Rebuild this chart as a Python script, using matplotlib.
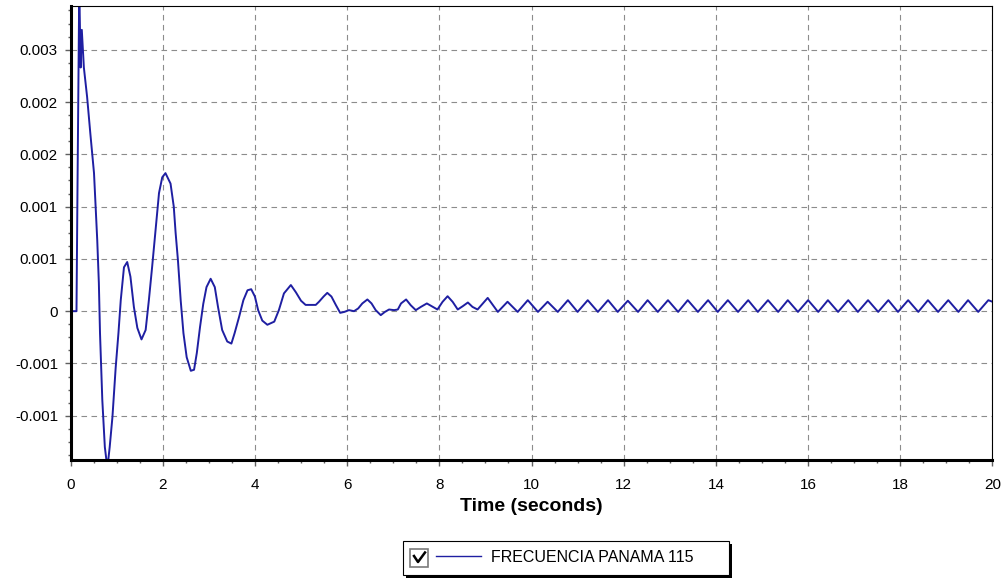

# Frequency deviation trace (FRECUENCIA PANAMA 115) over 20 seconds.

import matplotlib
matplotlib.use("Agg")
import matplotlib.pyplot as plt
from matplotlib.lines import Line2D
from matplotlib.patches import Rectangle
from matplotlib.ticker import FixedLocator, FixedFormatter, MultipleLocator


# Values
time_s = [0.00, 0.13, 0.15, 0.19, 0.22, 0.245, 0.29, 0.36, 0.43, 0.51,
          0.58, 0.615, 0.64, 0.69, 0.745, 0.80, 0.85, 0.91, 0.98, 1.04,
          1.09, 1.16, 1.23, 1.30, 1.375, 1.45, 1.54, 1.63, 1.70, 1.77,
          1.85, 1.92, 1.99, 2.06, 2.17, 2.24, 2.28, 2.33, 2.39, 2.45,
          2.52, 2.61, 2.68, 2.74, 2.81, 2.88, 2.95, 3.04, 3.13, 3.20,
          3.29, 3.40, 3.49, 3.56, 3.66, 3.75, 3.84, 3.92, 4.00, 4.07,
          4.16, 4.27, 4.42, 4.52, 4.63, 4.78, 4.89, 5.00, 5.10, 5.21,
          5.32, 5.39, 5.49, 5.57, 5.66, 5.755, 5.85, 5.94, 6.04, 6.15,
          6.24, 6.33, 6.44, 6.53, 6.62, 6.73, 6.82, 6.91, 7.02, 7.10,
          7.17, 7.28, 7.38, 7.49, 7.60, 7.73, 7.86, 7.96, 8.07, 8.18,
          8.29, 8.40, 8.51, 8.62, 8.72, 8.83,
          9.05, 9.27, 9.48, 9.70, 9.92, 10.14, 10.35, 10.57, 10.79, 11.00,
          11.22, 11.44, 11.66, 11.87, 12.09, 12.31, 12.52, 12.74, 12.96, 13.18,
          13.39, 13.61, 13.83, 14.04, 14.26, 14.48, 14.70, 14.91, 15.13, 15.35,
          15.56, 15.78, 16.00, 16.22, 16.43, 16.65, 16.87, 17.08, 17.30, 17.52,
          17.74, 17.95, 18.17, 18.39, 18.60, 18.82, 19.04, 19.26, 19.47, 19.69,
          19.91, 20.00]

freq_dev = [0.0, 0.0, 0.00109, 0.0031, 0.00233, 0.00269, 0.00233, 0.00205, 0.00170, 0.00132,
            0.00068, 0.00027, -0.00021, -0.00085, -0.00130, -0.00150, -0.00130, -0.00101, -0.00054, -0.00021,
            0.000105, 0.00042, 0.00047, 0.00033, 0.00004, -0.00016, -0.00027, -0.00018, 0.000105, 0.00042,
            0.00080, 0.00113, 0.00128, 0.00132, 0.00122, 0.00100, 0.00075, 0.00049, 0.000105, -0.00021,
            -0.00044, -0.00057, -0.00056, -0.00040, -0.00015, 0.00007, 0.00023, 0.00031, 0.00023, 0.00004,
            -0.00018, -0.00029, -0.00031, -0.00021, -0.00005, 0.000105, 0.00020, 0.00021, 0.00014, 0.00001,
            -0.00009, -0.00013, -0.00010, 0.00001, 0.00017, 0.00025, 0.00018, 0.00010, 0.00006, 0.00006,
            0.00006, 0.00009, 0.00014, 0.000175, 0.00014, 0.00006, -0.000016, -0.000007, 0.00001, 0.0,
            0.000026, 0.000074, 0.000112, 0.000074, 0.00001, -0.000038, -0.000007, 0.000016, 0.00001, 0.000016,
            0.000074, 0.000112, 0.000057, 0.00001, 0.000041, 0.000074, 0.000041, 0.000016, 0.000089, 0.000143,
            0.000089, 0.000016, 0.000048, 0.000083, 0.000041, 0.000016,
            0.000127, -0.000007, 0.00009, -0.000007, 0.000105, -0.000007, 0.00009, -0.000007, 0.000105, -0.000007,
            0.000105, -0.000007, 0.000105, -0.000007, 0.0001, -0.000007, 0.000105, -0.000007, 0.000105, -0.000007,
            0.000105, -0.000007, 0.000105, -0.000007, 0.000105, -0.000007, 0.000105, -0.000007, 0.000105, -0.000007,
            0.000105, -0.000007, 0.000105, -0.000007, 0.000105, -0.000007, 0.000105, -0.000007, 0.000105, -0.000007,
            0.000105, -0.000007, 0.000105, -0.000007, 0.000105, -0.000007, 0.000105, -0.000007, 0.000105, -0.000007,
            0.000105, 0.00009]

y_ticks = [-0.001, -0.0005, 0.0, 0.0005, 0.001, 0.0015, 0.002, 0.0025]
y_tick_labels = ["-0.001", "-0.001", "0", "0.001", "0.001", "0.002", "0.002", "0.003"]
x_ticks = [0, 2, 4, 6, 8, 10, 12, 14, 16, 18, 20]
x_tick_labels = ["0", "2", "4", "6", "8", "10", "12", "14", "16", "18", "20"]
series_name = "FRECUENCIA PANAMA 115"

W, H = 1003, 579


def fx(px):
    return px / W


def fy(py):
    return 1.0 - py / H


def plot(filename="out.png"):
    plt.rcParams["font.family"] = ["Liberation Sans", "DejaVu Sans"]

    fig = plt.figure(figsize=(W / 100, H / 100), dpi=100)
    fig.patch.set_facecolor("white")
    ax = fig.add_axes([fx(70.5), fy(460), fx(992.5) - fx(70.5), fy(6) - fy(460)])

    line, = ax.plot(time_s, freq_dev, color="#1f1fa2", lw=1.4)

    ax.set_xlim(0, 20)
    ax.set_ylim(-0.001423, 0.002918)

    ax.xaxis.set_major_locator(FixedLocator(x_ticks))
    ax.xaxis.set_major_formatter(FixedFormatter(x_tick_labels))
    ax.xaxis.set_minor_locator(MultipleLocator(0.5))
    ax.yaxis.set_major_locator(FixedLocator(y_ticks))
    ax.yaxis.set_major_formatter(FixedFormatter(y_tick_labels))
    ax.yaxis.set_minor_locator(MultipleLocator(0.000125))

    ax.tick_params(which="major", length=4, width=1, color="#606060",
                   labelsize=11, labelcolor="black")
    ax.tick_params(which="minor", length=2.5, width=1, color="#606060")
    ax.tick_params(axis="x", pad=9)
    ax.tick_params(axis="y", pad=5)

    ax.grid(True, which="major", color="#8c8c8c", lw=0.8, ls=(0, (5, 4)))

    for side in ["top", "right"]:
        ax.spines[side].set_linewidth(0.8)
    for side in ["left", "bottom"]:
        ax.spines[side].set_linewidth(2.2)

    ax.set_xlabel("Time (seconds)", fontsize=14, fontweight="bold", labelpad=4)

    # legend box with shadow and a checkbox, like the original control
    fig.patches.append(Rectangle((fx(406.5), fy(578)), fx(731.5) - fx(406.5),
                                 fy(543.5) - fy(578), transform=fig.transFigure,
                                 facecolor="black", edgecolor="none", zorder=1))
    fig.patches.append(Rectangle((fx(403.5), fy(575)), fx(728.5) - fx(403.5),
                                 fy(540.5) - fy(575), transform=fig.transFigure,
                                 facecolor="white", edgecolor="black", lw=0.8, zorder=2))
    fig.patches.append(Rectangle((fx(410.5), fy(566.5)), fx(428) - fx(410.5),
                                 fy(548.5) - fy(566.5), transform=fig.transFigure,
                                 facecolor="white", edgecolor="#7a7a7a", lw=1.2, zorder=3))
    fig.lines.append(Line2D([fx(414), fx(418), fx(425)], [fy(556), fy(562), fy(552.5)],
                            transform=fig.transFigure, color="black", lw=1.8, zorder=4))

    leg = fig.legend([line], [series_name], loc="center left",
                     bbox_to_anchor=(fx(436.5), fy(557.5)), frameon=False,
                     borderpad=0, borderaxespad=0, handlelength=2.8,
                     handletextpad=0.62, fontsize=11.5)
    leg.set_zorder(5)
    leg.get_lines()[0].set_linewidth(1.0)

    fig.savefig(filename, dpi=100)


plot()
